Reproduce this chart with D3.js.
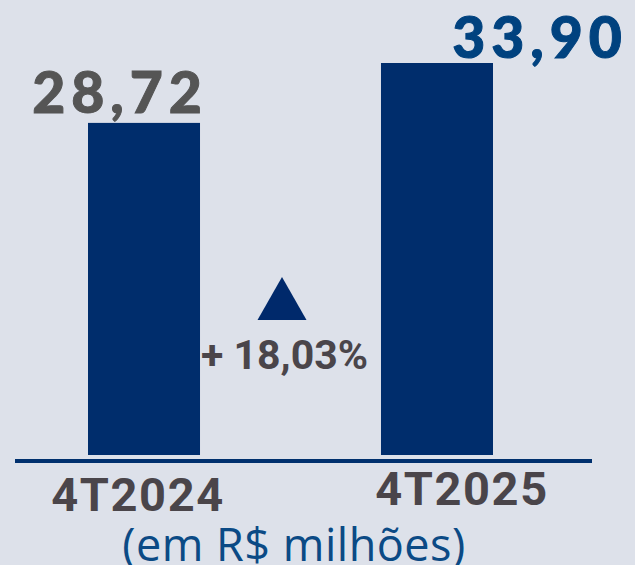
<!DOCTYPE html>
<html>
<head>
<meta charset="utf-8">
<script src="https://cdn.jsdelivr.net/npm/d3@7/dist/d3.min.js"></script>
<style>
html,body{margin:0;padding:0;background:#dde1ea;overflow:hidden;}
svg{display:block;}
</style>
</head>
<body>
<svg id="chart" width="635" height="565"></svg>
<script>
const categories = ["4T2024", "4T2025"];
const values = [28.72, 33.90];
const valueLabels = ["28,72", "33,90"];
const changeLabel = "+ 18,03%";
const unitLabel = "(em R$ milhões)";

const svg = d3.select("#chart");
svg.append("rect").attr("width", 635).attr("height", 565).attr("fill", "#dde1ea");

const x = d3.scaleBand().domain(categories).range([88, 493]).paddingInner(0.6177).paddingOuter(0);
const y = d3.scaleLinear().domain([0, 33.90]).range([455, 63]);

// bars
svg.selectAll("rect.bar").data(values).join("rect")
  .attr("class", "bar")
  .attr("x", (d, i) => x(categories[i]))
  .attr("y", d => y(d))
  .attr("width", x.bandwidth())
  .attr("height", d => y(0) - y(d))
  .attr("fill", "#002d6c");

// baseline
svg.append("line")
  .attr("x1", 15).attr("x2", 592)
  .attr("y1", y(0) + 6).attr("y2", y(0) + 6)
  .attr("stroke", "#00306e").attr("stroke-width", 4);

// value labels
const valOffsets = [{dx: -24, dy: -10, color: "#555555"}, {dx: 103, dy: -5, color: "#00427f"}];
svg.selectAll("text.val").data(values).join("text")
  .attr("class", "val")
  .attr("x", (d, i) => x(categories[i]) + x.bandwidth() / 2 + valOffsets[i].dx)
  .attr("y", (d, i) => y(d) + valOffsets[i].dy)
  .attr("text-anchor", "middle")
  .attr("font-family", "Lato, 'DejaVu Sans', sans-serif")
  .attr("font-weight", 900)
  .attr("font-size", 57)
  .attr("letter-spacing", 6)
  .attr("stroke", (d, i) => valOffsets[i].color)
  .attr("stroke-width", 1)
  .attr("fill", (d, i) => valOffsets[i].color)
  .text((d, i) => valueLabels[i]);

// category labels
const catOffsets = [{dx: -6, y: 511}, {dx: 25, y: 505}];
svg.selectAll("text.cat").data(categories).join("text")
  .attr("class", "cat")
  .attr("x", (d, i) => x(d) + x.bandwidth() / 2 + catOffsets[i].dx)
  .attr("y", (d, i) => catOffsets[i].y)
  .attr("text-anchor", "middle")
  .attr("font-family", "Roboto, 'DejaVu Sans', sans-serif")
  .attr("font-weight", 700)
  .attr("font-size", 47)
  .attr("letter-spacing", 1.6)
  .attr("fill", "#4a454a")
  .text(d => d);

// triangle
const triCx = 282;
svg.append("path")
  .attr("d", d3.line()([[triCx, 277], [triCx + 24.5, 320], [triCx - 24.5, 320]]) + "Z")
  .attr("fill", "#00296b");

// change label
svg.append("text")
  .attr("x", 284.5).attr("y", 369)
  .attr("text-anchor", "middle")
  .attr("font-family", "Roboto, 'DejaVu Sans', sans-serif")
  .attr("font-weight", 700)
  .attr("font-size", 41)
  .attr("fill", "#4a454a")
  .text(changeLabel);

// unit label
svg.append("text")
  .attr("x", 294).attr("y", 561)
  .attr("text-anchor", "middle")
  .attr("font-family", "'Open Sans', sans-serif")
  .attr("font-weight", 400)
  .attr("font-size", 45)
  .attr("letter-spacing", 0.5)
  .attr("fill", "#0b4a85")
  .text(unitLabel);
</script>
</body>
</html>
